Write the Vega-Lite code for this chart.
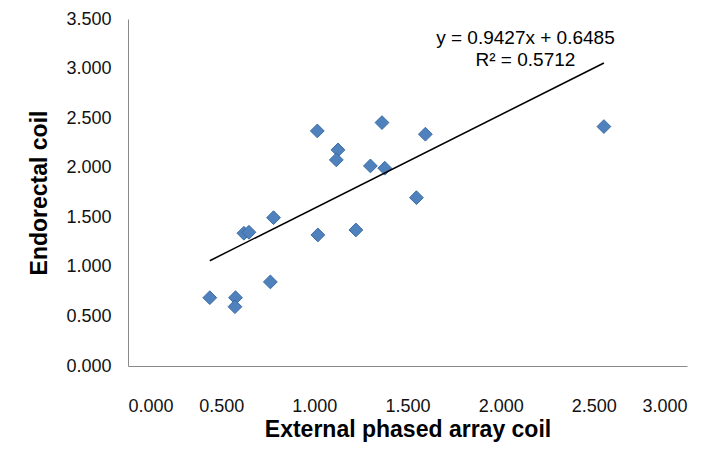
{
  "$schema": "https://vega.github.io/schema/vega-lite/v6.json",
  "width": 559,
  "height": 347,
  "autosize": {"type": "none"},
  "padding": {"left": 128, "top": 19, "right": 36, "bottom": 88},
  "background": "white",
  "config": {
    "view": {"stroke": null},
    "axis": {
      "labelFont": "Liberation Sans",
      "labelFontSize": 18,
      "labelColor": "#111111",
      "titleFont": "Liberation Sans",
      "titleFontSize": 23,
      "titleFontWeight": "bold",
      "titleColor": "#000000",
      "domainColor": "#8a8a8a",
      "domainWidth": 1,
      "ticks": false,
      "grid": false
    }
  },
  "layer": [
    {
      "data": {"values": [
        {"external": 1.016, "endorectal": 2.371},
        {"external": 1.363, "endorectal": 2.455},
        {"external": 1.596, "endorectal": 2.338},
        {"external": 1.127, "endorectal": 2.180},
        {"external": 1.118, "endorectal": 2.079},
        {"external": 1.301, "endorectal": 2.018},
        {"external": 1.378, "endorectal": 1.995},
        {"external": 1.548, "endorectal": 1.698},
        {"external": 0.781, "endorectal": 1.496},
        {"external": 0.622, "endorectal": 1.339},
        {"external": 0.649, "endorectal": 1.349},
        {"external": 1.019, "endorectal": 1.322},
        {"external": 1.223, "endorectal": 1.372},
        {"external": 0.764, "endorectal": 0.848},
        {"external": 0.439, "endorectal": 0.689},
        {"external": 0.577, "endorectal": 0.689},
        {"external": 0.574, "endorectal": 0.598},
        {"external": 2.554, "endorectal": 2.415}
      ]},
      "mark": {"type": "point", "shape": "diamond", "filled": true, "size": 190, "color": "#4F81BD", "stroke": "#3C6CA5", "strokeWidth": 1, "opacity": 1},
      "encoding": {
        "x": {"field": "external", "type": "quantitative", "scale": {"domain": [0, 3], "nice": false, "zero": true},
          "axis": {"title": "External phased array coil", "values": [0, 0.5, 1, 1.5, 2, 2.5, 3], "format": ".3f", "labelPadding": 31, "titlePadding": 3}},
        "y": {"field": "endorectal", "type": "quantitative", "scale": {"domain": [0, 3.5], "nice": false, "zero": true},
          "axis": {"title": "Endorectal coil", "values": [0, 0.5, 1, 1.5, 2, 2.5, 3, 3.5], "format": ".3f", "labelPadding": 17, "titlePadding": 14}}
      }
    },
    {
      "data": {"values": [
        {"external": 0.439, "endorectal": 1.062},
        {"external": 2.554, "endorectal": 3.056}
      ]},
      "mark": {"type": "line", "color": "#000000", "strokeWidth": 1.5},
      "encoding": {
        "x": {"field": "external", "type": "quantitative"},
        "y": {"field": "endorectal", "type": "quantitative"}
      }
    },
    {
      "data": {"values": [
        {"external": 2.133, "endorectal": 3.31, "label": "y = 0.9427x + 0.6485"},
        {"external": 2.133, "endorectal": 3.088, "label": "R² = 0.5712"}
      ]},
      "mark": {"type": "text", "font": "Liberation Sans", "fontSize": 19, "color": "#000000", "align": "center", "baseline": "middle"},
      "encoding": {
        "x": {"field": "external", "type": "quantitative"},
        "y": {"field": "endorectal", "type": "quantitative"},
        "text": {"field": "label", "type": "nominal"}
      }
    }
  ]
}
